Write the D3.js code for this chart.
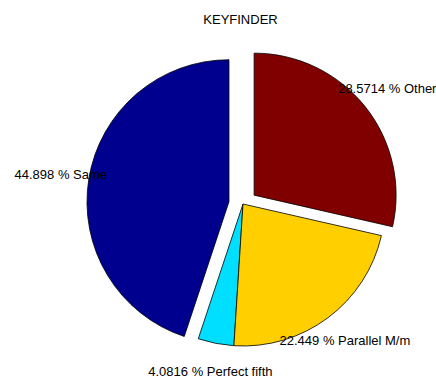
<!DOCTYPE html>
<html>
<head>
<meta charset="utf-8">
<script src="https://cdn.jsdelivr.net/npm/d3@7"></script>
<style>
  html, body { margin: 0; padding: 0; background: #fff; }
  svg { display: block; }
  text { font-family: "Liberation Sans", Arial, Helvetica, sans-serif; font-size: 13px; fill: #000; }
</style>
</head>
<body>
<svg id="chart" width="436" height="379"></svg>
<script>
// Interval categories and their counts (49 items in total)
const categories = ["Same", "Perfect fifth", "Parallel M/m", "Other"];
const counts = [22, 2, 11, 14];
const explode = [1, 0, 0, 1];
const sliceColors = ["#00008f", "#00dfff", "#ffcf00", "#800000"];
const title = "KEYFINDER";

const width = 436, height = 379;
const cx = 243, cy = 204, radius = 142;
const total = d3.sum(counts);

const svg = d3.select("#chart");

const color = d3.scaleOrdinal().domain(categories).range(sliceColors);

// Slices start at the top and run counter-clockwise
const pie = d3.pie().sort(null).startAngle(0).endAngle(-2 * Math.PI);
const arcs = pie(counts);

const arc = d3.arc().innerRadius(0).outerRadius(radius);

const g = svg.append("g").attr("transform", `translate(${cx},${cy})`);

const mid = d => (d.startAngle + d.endAngle) / 2;
const dir = a => [Math.sin(a), -Math.cos(a)];

// Percentage with significant digits chosen by magnitude, trailing zeros dropped
const fmtPct = v => {
  const digits = Math.floor(Math.log10(Math.abs(v))) + 5;
  return String(+v.toPrecision(digits));
};

const slice = g.selectAll("g.slice")
  .data(arcs)
  .join("g")
  .attr("class", "slice")
  .attr("transform", (d, i) => {
    const [dx, dy] = dir(mid(d));
    const off = explode[i] ? 0.1 * radius : 0;
    return `translate(${dx * off},${dy * off})`;
  });

slice.append("path")
  .attr("d", arc)
  .attr("fill", (d, i) => color(categories[i]))
  .attr("stroke", "#000")
  .attr("stroke-width", 0.8)
  .attr("stroke-linejoin", "miter");

// Percentage labels placed at 1.2 radius beyond each slice's own centre
slice.append("text")
  .attr("text-anchor", "middle")
  .attr("dy", "0.35em")
  .attr("x", d => dir(mid(d))[0] * radius * 1.2)
  .attr("y", d => dir(mid(d))[1] * radius * 1.2)
  .text((d, i) => `${fmtPct(counts[i] / total * 100)} % ${categories[i]}`);

svg.append("text")
  .attr("x", 240.5)
  .attr("y", 24)
  .attr("text-anchor", "middle")
  .text(title);
</script>
</body>
</html>
